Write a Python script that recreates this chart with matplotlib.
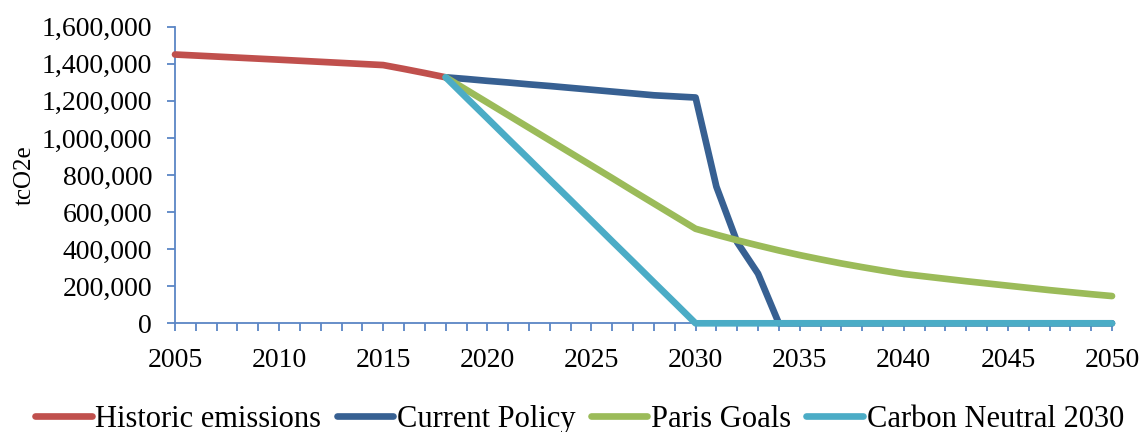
import matplotlib
matplotlib.use("Agg")
import matplotlib.pyplot as plt
from matplotlib.ticker import FuncFormatter, MultipleLocator

# Emissions in tonnes CO2e
historic_years = [2005, 2010, 2015, 2016, 2017, 2018]
historic_vals = [1450000, 1422000, 1393000, 1372000, 1350000, 1327000]

scenario_years = list(range(2018, 2051))
current_policy = [1327000, 1318000, 1308000, 1299000, 1289000, 1280000, 1270000,
                  1260000, 1250000, 1240000, 1230000, 1224000, 1218000, 737000,
                  437000, 268000, 0, 0, 0, 0, 0, 0, 0, 0, 0, 0, 0, 0, 0, 0, 0, 0, 0]
paris_goals = [1327000, 1259000, 1191000, 1123000, 1055000, 987000, 919000,
               851000, 783000, 714000, 646000, 578000, 510000, 478000, 448000,
               420000, 393000, 368000, 345000, 323000, 303000, 284000, 266000,
               253000, 240000, 227000, 215000, 203000, 191000, 179000, 168000,
               157000, 147000]
carbon_neutral = [1327000, 1216000, 1106000, 995000, 885000, 774000, 664000,
                  553000, 442000, 332000, 221000, 111000, 0, 0, 0, 0, 0, 0, 0,
                  0, 0, 0, 0, 0, 0, 0, 0, 0, 0, 0, 0, 0, 0]

series_labels = ["Historic emissions", "Current Policy", "Paris Goals", "Carbon Neutral 2030"]
series_colors = ["#C0504D", "#376092", "#9BBB59", "#4BACC6"]
axis_color = "#5B86C5"

plt.rcParams["font.family"] = ["Liberation Serif", "DejaVu Serif"]

fig = plt.figure(figsize=(11.43, 4.32), dpi=100)
ax = fig.add_axes([0.1531, 0.2516, 0.8198, 0.6866])

lw = 4.8
line_style = dict(lw=lw, solid_capstyle="round", solid_joinstyle="round", clip_on=False)
ax.plot(historic_years, historic_vals, color=series_colors[0], label=series_labels[0], **line_style)
ax.plot(scenario_years, current_policy, color=series_colors[1], label=series_labels[1], **line_style)
ax.plot(scenario_years, paris_goals, color=series_colors[2], label=series_labels[2], **line_style)
ax.plot(scenario_years, carbon_neutral, color=series_colors[3], label=series_labels[3], **line_style)

ax.set_xlim(2005, 2050)
ax.set_ylim(0, 1600000)

ax.xaxis.set_major_locator(MultipleLocator(5))
ax.xaxis.set_minor_locator(MultipleLocator(1))
ax.yaxis.set_major_locator(MultipleLocator(200000))
ax.yaxis.set_major_formatter(FuncFormatter(lambda v, p: f"{int(v):,}"))

for side in ("top", "right"):
    ax.spines[side].set_visible(False)
for side in ("left", "bottom"):
    ax.spines[side].set_color(axis_color)
    ax.spines[side].set_linewidth(1.3)
    ax.spines[side].set_zorder(1)

ax.tick_params(axis="both", which="both", direction="out", color=axis_color,
               width=1.3, length=5.5)
ax.tick_params(axis="x", which="major", labelsize=20, pad=12)
ax.tick_params(axis="y", which="major", labelsize=20, pad=11)

ax.set_ylabel("tcO2e", fontsize=18)
ax.yaxis.set_label_coords(-0.149, 0.5)

fig.legend(loc="center", bbox_to_anchor=(0.507, 0.03), ncol=4, frameon=False,
           fontsize=22, handlelength=1.85, handletextpad=0.12, columnspacing=0.5,
           borderpad=0, borderaxespad=0)

fig.savefig("out.png", dpi=100)
